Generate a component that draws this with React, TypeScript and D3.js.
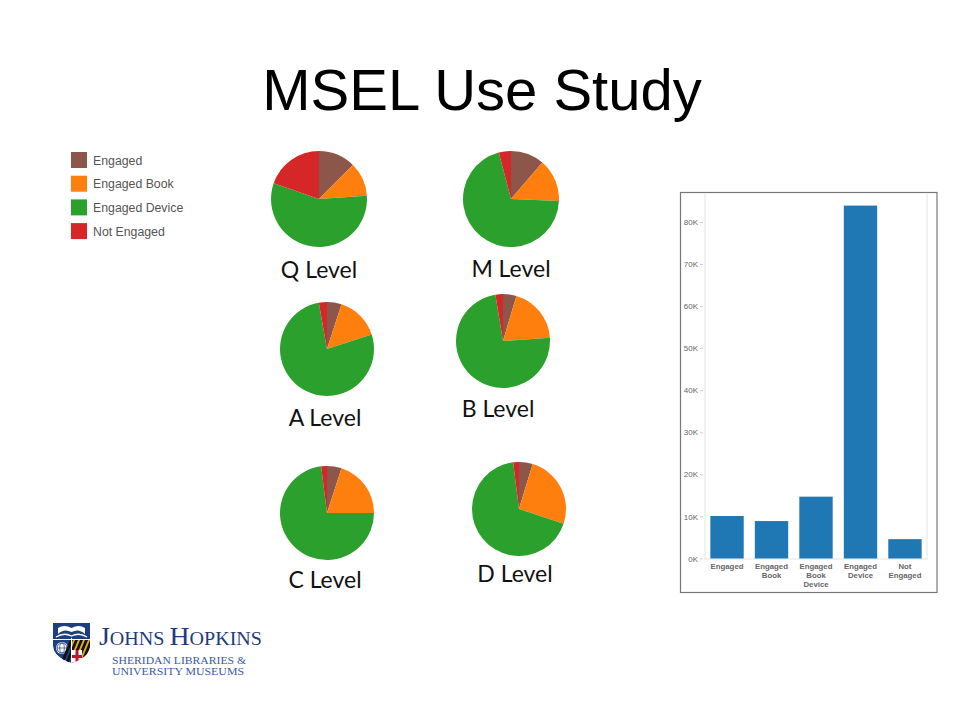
/*eslint-disable*/
import React, { useEffect, useRef } from 'react';
import * as d3 from 'd3';

// legend / pie categories
const categories = ['Engaged', 'Engaged Book', 'Engaged Device', 'Not Engaged'];
const catColors = ['#8c564b', '#ff7f0e', '#2ca02c', '#d62728'];

// pie levels and share (%) of each category, read clockwise from 12 o'clock
const levels = ['Q Level', 'M Level', 'A Level', 'B Level', 'C Level', 'D Level'];
const qShares = [12.5, 11.4, 56.4, 19.7];
const mShares = [11.3, 14.4, 70.2, 4.1];
const aShares = [5.0, 15.0, 77.2, 2.8];
const bShares = [4.6, 19.3, 73.5, 2.6];
const cShares = [5.0, 20.0, 73.0, 2.0];
const dShares = [4.7, 25.4, 67.9, 2.0];
const levelShares = [qShares, mShares, aShares, bShares, cShares, dShares];

// bar chart
const barCategories = ['Engaged', 'Engaged Book', 'Engaged Book Device', 'Engaged Device', 'Not Engaged'];
const barValues = [10100, 8900, 14700, 83900, 4600];
const barTicks = [0, 10000, 20000, 30000, 40000, 50000, 60000, 70000, 80000];

const App: React.FC = () => {
  const svgRef = useRef<SVGSVGElement>(null);

  useEffect(() => {
    const width = 960;
    const height = 720;
    const svg = d3.select(svgRef.current)
      .attr('width', width)
      .attr('height', height);
    svg.selectAll('*').remove();

    svg.append('rect').attr('width', width).attr('height', height).attr('fill', '#fff');

    // title
    svg.append('text')
      .attr('x', 482)
      .attr('y', 110)
      .attr('text-anchor', 'middle')
      .attr('font-family', 'Liberation Sans, Arial, sans-serif')
      .attr('font-size', 58)
      .attr('fill', '#000')
      .text('MSEL Use Study');

    // legend
    const legend = svg.append('g').attr('transform', 'translate(71,152)');
    const li = legend.selectAll('g').data(categories).enter().append('g')
      .attr('transform', (d, i) => `translate(0, ${i * 23.7})`);
    li.append('rect').attr('width', 16).attr('height', 16).attr('fill', (d, i) => catColors[i]);
    li.append('text')
      .attr('x', 22)
      .attr('y', 12.5)
      .attr('font-family', 'Liberation Sans, Arial, sans-serif')
      .attr('font-size', 12.3)
      .attr('fill', '#555')
      .text(d => d);

    // pies
    const pieLayout = [
      { cx: 319, cy: 199, r: 48, lx: 319, ly: 278 },
      { cx: 511, cy: 199, r: 48, lx: 511, ly: 277 },
      { cx: 327, cy: 349, r: 47, lx: 325, ly: 426 },
      { cx: 503, cy: 341, r: 47, lx: 498, ly: 417 },
      { cx: 327, cy: 513, r: 47, lx: 325, ly: 588 },
      { cx: 519, cy: 509, r: 47, lx: 515, ly: 582 },
    ];
    const pie = d3.pie<number>().sort(null).value(d => d);

    levels.forEach((name, k) => {
      const p = pieLayout[k];
      const arc = d3.arc<d3.PieArcDatum<number>>().innerRadius(0).outerRadius(p.r);
      const g = svg.append('g').attr('transform', `translate(${p.cx},${p.cy})`);
      g.selectAll('path')
        .data(pie(levelShares[k]))
        .enter()
        .append('path')
        .attr('d', arc)
        .attr('fill', (d, i) => catColors[i]);
      svg.append('text')
        .attr('x', p.lx)
        .attr('y', p.ly)
        .attr('text-anchor', 'middle')
        .attr('font-family', 'Lato, Open Sans, sans-serif')
        .attr('font-size', 23)
        .attr('fill', '#111')
        .text(name);
    });

    // bar chart panel
    svg.append('rect')
      .attr('x', 680.5).attr('y', 192.5)
      .attr('width', 256.5).attr('height', 400)
      .attr('fill', '#fff')
      .attr('stroke', '#777')
      .attr('stroke-width', 1.2);

    const xScale = d3.scaleBand<string>()
      .domain(barCategories)
      .range([705, 927])
      .paddingInner(0.25)
      .paddingOuter(0.12);
    const yScale = d3.scaleLinear()
      .domain([0, 80000])
      .range([558.5, 222]);

    // light frame lines
    [705, 927].forEach(x => {
      svg.append('line')
        .attr('x1', x).attr('x2', x)
        .attr('y1', 194).attr('y2', 560)
        .attr('stroke', '#e4e4e4');
    });
    svg.append('line')
      .attr('x1', 705).attr('x2', 927)
      .attr('y1', yScale(0) + 0.5).attr('y2', yScale(0) + 0.5)
      .attr('stroke', '#e4e4e4');

    const yAxis = d3.axisLeft(yScale)
      .tickValues(barTicks)
      .tickSize(3)
      .tickPadding(2)
      .tickFormat(d => `${(d as number) / 1000}K`);
    const yg = svg.append('g')
      .attr('transform', 'translate(703,0)')
      .call(yAxis);
    yg.select('.domain').remove();
    yg.selectAll('.tick line').attr('stroke', '#ccc');
    yg.selectAll('.tick text')
      .attr('fill', '#666')
      .attr('font-family', 'Liberation Sans, Arial, sans-serif')
      .attr('font-size', 8);

    svg.append('g')
      .selectAll('rect')
      .data(barValues)
      .enter()
      .append('rect')
      .attr('x', (d, i) => xScale(barCategories[i]) as number)
      .attr('y', d => yScale(d))
      .attr('width', xScale.bandwidth())
      .attr('height', d => yScale(0) - yScale(d))
      .attr('fill', '#1f77b4');

    const xl = svg.append('g')
      .selectAll('text')
      .data(barCategories)
      .enter()
      .append('text')
      .attr('text-anchor', 'middle')
      .attr('font-family', 'Liberation Sans, Arial, sans-serif')
      .attr('font-size', 7.8)
      .attr('font-weight', 'bold')
      .attr('fill', '#666')
      .attr('transform', d => `translate(${(xScale(d) as number) + xScale.bandwidth() / 2}, 569)`);
    xl.each(function (d) {
      const t = d3.select(this);
      d.split(' ').forEach((w, i) => {
        t.append('tspan').attr('x', 0).attr('y', i * 9.2).text(w);
      });
    });

    // logo
    const logo = svg.append('g');
    const shieldPath = 'M53,623 L90,623 L90,646 Q89.5,657 71.5,663 Q53.5,657 53,646 Z';
    logo.append('clipPath').attr('id', 'shield-clip').append('path').attr('d', shieldPath);
    const sh = logo.append('g').attr('clip-path', 'url(#shield-clip)');
    sh.append('path').attr('d', shieldPath).attr('fill', '#1d3f80');
    // open book
    sh.append('path')
      .attr('d', 'M58,634 Q64,628 71.5,632 Q79,628 85,634 L85,628 Q79,624 71.5,628 Q64,624 58,628 Z')
      .attr('fill', '#fff');
    sh.append('path')
      .attr('d', 'M56,637 Q64,632 71.5,636 Q79,632 87,637')
      .attr('fill', 'none').attr('stroke', '#fff').attr('stroke-width', 1.3);
    // globe
    sh.append('circle').attr('cx', 62).attr('cy', 648).attr('r', 6).attr('fill', '#fff');
    sh.append('circle').attr('cx', 62).attr('cy', 648).attr('r', 5).attr('fill', 'none').attr('stroke', '#1d3f80').attr('stroke-width', 0.8);
    sh.append('ellipse').attr('cx', 62).attr('cy', 648).attr('rx', 2.3).attr('ry', 5).attr('fill', 'none').attr('stroke', '#1d3f80').attr('stroke-width', 0.7);
    sh.append('line').attr('x1', 57).attr('x2', 67).attr('y1', 648).attr('y2', 648).attr('stroke', '#1d3f80').attr('stroke-width', 0.7);
    // Maryland flag quarter
    sh.append('rect').attr('x', 72).attr('y', 640).attr('width', 18).attr('height', 24).attr('fill', '#e0b020');
    [0, 1, 2, 3, 4, 5].forEach(i => {
      sh.append('path')
        .attr('d', `M${70 + i * 5},640 l3,0 l-10,24 l-3,0 Z`)
        .attr('fill', '#111');
    });
    sh.append('rect').attr('x', 72).attr('y', 650).attr('width', 10).attr('height', 14).attr('fill', '#fff');
    sh.append('rect').attr('x', 75.5).attr('y', 650).attr('width', 3).attr('height', 14).attr('fill', '#c8102e');
    sh.append('rect').attr('x', 72).attr('y', 655).attr('width', 10).attr('height', 3).attr('fill', '#c8102e');
    sh.append('line').attr('x1', 71.5).attr('x2', 71.5).attr('y1', 638).attr('y2', 664).attr('stroke', '#fff').attr('stroke-width', 1);
    sh.append('line').attr('x1', 53).attr('x2', 90).attr('y1', 639.5).attr('y2', 639.5).attr('stroke', '#fff').attr('stroke-width', 1);

    const jh = logo.append('text')
      .attr('x', 99)
      .attr('y', 645)
      .attr('font-family', 'Liberation Serif, Times New Roman, serif')
      .attr('fill', '#1f3b7c')
      .attr('textLength', 163)
      .attr('lengthAdjust', 'spacingAndGlyphs');
    [['J', 25], ['OHNS ', 18], ['H', 25], ['OPKINS', 18]].forEach(([s, f]) => {
      jh.append('tspan').attr('font-size', f as number).text(s as string);
    });
    logo.append('text')
      .attr('x', 112).attr('y', 663.5)
      .attr('font-family', 'Liberation Serif, Times New Roman, serif')
      .attr('font-size', 11)
      .attr('fill', '#3a5ba5')
      .attr('textLength', 134)
      .attr('lengthAdjust', 'spacingAndGlyphs')
      .text('SHERIDAN LIBRARIES &');
    logo.append('text')
      .attr('x', 112).attr('y', 675)
      .attr('font-family', 'Liberation Serif, Times New Roman, serif')
      .attr('font-size', 11)
      .attr('fill', '#3a5ba5')
      .attr('textLength', 132)
      .attr('lengthAdjust', 'spacingAndGlyphs')
      .text('UNIVERSITY MUSEUMS');
  }, []);

  return <svg ref={svgRef} style={{ position: 'absolute', left: 0, top: 0 }}></svg>;
};

export default App;
